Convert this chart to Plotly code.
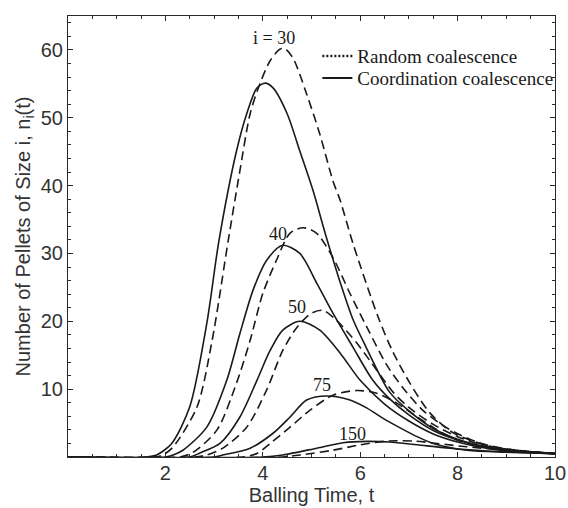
import plotly.graph_objects as go

# ---- data ----
sizes = ["30", "40", "50", "75", "150"]

coord_x = {
    "30": [0, 1.6, 1.82, 2.13, 2.5, 2.85, 3.1, 3.46, 3.67, 3.88, 4.05, 4.21, 4.5, 4.76, 5.03, 5.3, 5.6, 5.85, 6.1, 6.6, 7.0, 7.5, 8.0, 8.5, 9.0, 10],
    "40": [0, 2.0, 2.16, 2.36, 2.85, 3.26, 3.53, 3.8, 4.08, 4.41, 4.76, 5.11, 5.44, 5.85, 6.26, 6.6, 7.0, 7.5, 8.0, 8.5, 9.0, 10],
    "50": [0, 2.5, 2.71, 3.12, 3.53, 3.88, 4.15, 4.41, 4.76, 5.17, 5.59, 6.0, 6.5, 7.0, 7.5, 8.0, 8.5, 9.0, 10],
    "75": [0, 3.0, 3.18, 3.74, 4.21, 4.56, 4.9, 5.32, 5.79, 6.14, 6.47, 6.82, 7.17, 7.5, 8.19, 9.0, 10],
    "150": [0, 4.0, 4.41, 5.11, 5.65, 6.14, 6.61, 7.17, 7.84, 8.87, 10],
}
coord_y = {
    "30": [0, 0, 0.3, 2, 7.4, 19.7, 31.9, 45.1, 50.6, 54.4, 55.1, 54.4, 50.6, 45.1, 39.3, 32.5, 25.5, 20.3, 16.5, 9.6, 6.8, 4.2, 2.6, 1.6, 1.0, 0.5],
    "40": [0, 0, 0.3, 1.0, 4.4, 11.3, 18.2, 24.6, 29, 31.2, 30, 25.6, 21.2, 16.2, 11.3, 8.6, 6.2, 3.9, 2.5, 1.6, 1.0, 0.5],
    "50": [0, 0, 0.6, 2.0, 5.9, 11.3, 15.7, 18.7, 20.0, 18.7, 15.3, 11.3, 7.8, 5.3, 3.4, 2.2, 1.4, 0.9, 0.5],
    "75": [0, 0, 0.3, 1.3, 3.5, 5.9, 8.4, 9.0, 8.4, 7.2, 5.7, 4.3, 3.0, 2.0, 1.0, 0.7, 0.5],
    "150": [0, 0, 0.3, 1.3, 2.1, 2.3, 2.2, 1.8, 1.3, 0.8, 0.5],
}
random_x = {
    "30": [0, 1.8, 1.95, 2.16, 2.65, 2.96, 3.29, 3.53, 3.74, 3.94, 4.15, 4.35, 4.45, 4.62, 4.9, 5.17, 5.44, 5.59, 5.85, 6.37, 6.67, 7.02, 7.43, 7.9, 8.6, 9.2, 10],
    "40": [0, 2.3, 2.57, 3.06, 3.46, 3.74, 4.0, 4.28, 4.56, 4.83, 5.1, 5.44, 5.79, 6.14, 6.55, 6.9, 7.3, 7.8, 8.4, 9.0, 10],
    "50": [0, 2.6, 2.85, 3.18, 3.67, 4.08, 4.41, 4.7, 5.0, 5.24, 5.52, 5.93, 6.34, 6.67, 7.0, 7.5, 8.0, 8.6, 9.2, 10],
    "75": [0, 3.6, 3.9, 4.15, 4.56, 4.97, 5.44, 5.93, 6.34, 6.76, 7.17, 7.58, 7.99, 8.52, 9.2, 10],
    "150": [0, 4.4, 4.76, 5.44, 6.0, 6.47, 6.75, 7.1, 7.58, 8.19, 9.22, 10],
}
random_y = {
    "30": [0, 0, 0.3, 1.5, 7.4, 17.2, 31.9, 42.2, 50.6, 55, 58.4, 60.1, 60.2, 58.8, 53.5, 47.6, 40.7, 37.8, 31.5, 20.6, 15.5, 10.9, 6.5, 3.6, 1.7, 1.0, 0.5],
    "40": [0, 0, 0.7, 4.0, 10.9, 17.2, 24.1, 29, 33, 33.8, 33, 29.4, 24.1, 19.1, 13.5, 10, 6.8, 4.2, 2.2, 1.2, 0.5],
    "50": [0, 0, 0.3, 1.3, 4.4, 9.9, 15.7, 19.1, 21.2, 21.6, 20.1, 16.8, 12.8, 9.6, 7.3, 4.8, 3.0, 1.6, 1.0, 0.5],
    "75": [0, 0, 0.6, 2.0, 4.4, 6.9, 9.1, 9.8, 9.4, 7.9, 5.9, 4.0, 2.5, 1.5, 0.9, 0.5],
    "150": [0, 0, 0.3, 1.0, 1.8, 2.3, 2.4, 2.35, 2.0, 1.5, 0.9, 0.5],
}

label_text = ["i = 30", "40", "50", "75", "150"]
label_x = [4.23, 4.31, 4.70, 5.22, 5.85]
label_y = [61.7, 32.9, 22.1, 10.6, 3.4]

x_ticks = [2, 4, 6, 8, 10]
y_ticks = [10, 20, 30, 40, 50, 60]

LINE = "#1a1a1a"
AX = "#2a2a2a"
TXT = "#333333"

fig = go.Figure()
for s in sizes:
    fig.add_trace(go.Scatter(x=random_x[s], y=random_y[s], mode="lines",
                             line=dict(color=LINE, width=1.6, dash="9px,5px", shape="spline", smoothing=0.8),
                             showlegend=False, hoverinfo="skip"))
    fig.add_trace(go.Scatter(x=coord_x[s], y=coord_y[s], mode="lines",
                             line=dict(color=LINE, width=1.6, shape="spline", smoothing=0.8),
                             showlegend=False, hoverinfo="skip"))

# legend entries (one legend per row to match the compact spacing)
fig.add_trace(go.Scatter(x=[None], y=[None], mode="lines", name="Random coalescence",
                         line=dict(color=LINE, width=2.5, dash="2px,2px"), legend="legend"))
fig.add_trace(go.Scatter(x=[None], y=[None], mode="lines", name="Coordination coalescence",
                         line=dict(color=LINE, width=2), legend="legend2"))

for t, lx, ly in zip(label_text, label_x, label_y):
    fig.add_annotation(x=lx, y=ly, text=t, showarrow=False,
                       font=dict(family="Liberation Serif", size=18, color=LINE))

axis_common = dict(showline=True, linecolor=AX, linewidth=1.2, mirror="allticks",
                   ticks="inside", ticklen=5, tickwidth=1, tickcolor=AX, showgrid=False, zeroline=False,
                   automargin=False,
                   tickfont=dict(family="Liberation Sans", size=20, color=TXT))

fig.update_xaxes(range=[0, 10], tickvals=x_ticks, ticklabelstandoff=-2,
                 minor=dict(dtick=0.5, ticks="inside", ticklen=3, tickcolor=AX),
                 title=dict(text="Balling Time, t", font=dict(family="Liberation Sans", size=20, color=TXT), standoff=0),
                 **axis_common)
fig.update_yaxes(range=[0, 65], tickvals=y_ticks,
                 minor=dict(dtick=2, ticks="inside", ticklen=3, tickcolor=AX),
                 title=dict(text="Number of Pellets of Size i, n<sub>i</sub>(t)", font=dict(family="Liberation Sans", size=20, color=TXT), standoff=4),
                 **axis_common)

leg_common = dict(xanchor="left", yanchor="middle", bgcolor="rgba(0,0,0,0)",
                  font=dict(family="Liberation Serif", size=19, color=LINE))
fig.update_layout(template="simple_white", width=568, height=508,
                  margin=dict(l=68, r=13, t=16, b=51, autoexpand=False),
                  paper_bgcolor="white", plot_bgcolor="white",
                  legend=dict(x=0.512, y=0.909, **leg_common),
                  legend2=dict(x=0.512, y=0.859, **leg_common))

fig.write_html("out.html", config={"displayModeBar": False},
               post_script="document.body.style.margin='0px';document.body.style.overflow='hidden';")
